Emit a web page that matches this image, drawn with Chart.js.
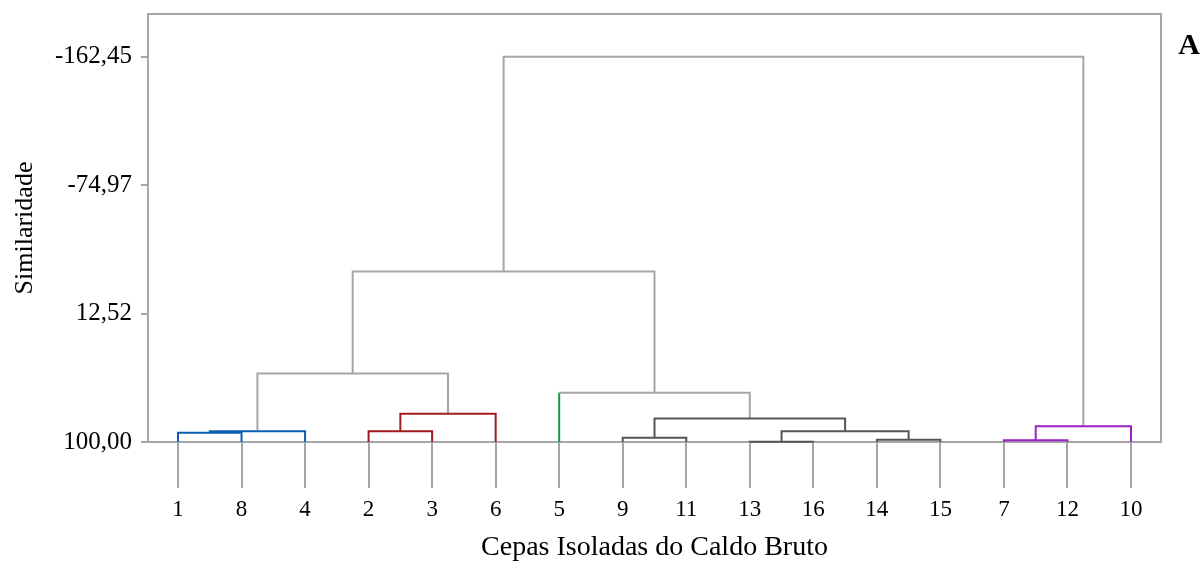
<!DOCTYPE html>
<html>
<head>
<meta charset="utf-8">
<script src="https://cdn.jsdelivr.net/npm/chart.js@4.4.0/dist/chart.umd.min.js"></script>
<style>
  html, body { margin: 0; padding: 0; background: #fff; }
</style>
</head>
<body>
<canvas id="dendroChart" width="1201" height="562"></canvas>
<script>

// leaf order along the bottom
var leafLabels = ['1', '8', '4', '2', '3', '6', '5', '9', '11', '13', '16', '14', '15', '7', '12', '10'];

// merges (node ids: leaves 0..15, then merge k gets id 16+k)
var mergeLeft   = [0, 16, 3, 18, 17, 7, 9, 11, 22, 21, 6, 20, 13, 28, 27];
var mergeRight  = [1, 2, 4, 5, 19, 8, 10, 12, 23, 24, 25, 26, 14, 15, 29];
var mergeHeight = [93.7, 92.6, 92.6, 80.8, 53.4, 97.1, 99.9, 98.5, 92.6, 84.0, 66.5, -16.1, 98.8, 89.2, -162.45];
var mergeGroup  = ['blue', 'blue', 'red', 'red', '', 'dark', 'dark', 'dark', 'dark', 'dark', '', '', 'purple', 'purple', ''];

// single leaves that carry their own group colour
var leafGroup = { 6: 'green' };

var yTicks = [-162.45, -74.97, 12.52, 100.00];

var colors = {
  '': '#a6a6a6',
  blue: '#0f5db3',
  red: '#a11a1e',
  green: '#139a34',
  dark: '#555555',
  purple: '#9b22c4'
};
var gray = '#a6a6a6';
var serif = "'Liberation Serif', 'Times New Roman', serif";

// x / height of every node
var nodeX = [];
var nodeH = [];
for (var i = 0; i < leafLabels.length; i++) {
  nodeX.push(i);
  nodeH.push(100);
}
for (var k = 0; k < mergeLeft.length; k++) {
  nodeX.push((nodeX[mergeLeft[k]] + nodeX[mergeRight[k]]) / 2);
  nodeH.push(mergeHeight[k]);
}

function legColor(child, k) {
  if (child < leafLabels.length && leafGroup[child]) {
    return colors[leafGroup[child]];
  }
  return colors[mergeGroup[k]];
}

var datasets = [];
for (var k = 0; k < mergeLeft.length; k++) {
  var a = mergeLeft[k], b = mergeRight[k], h = mergeHeight[k];
  var segColors = [legColor(a, k), colors[mergeGroup[k]], legColor(b, k)];
  datasets.push({
    data: [
      { x: nodeX[a], y: nodeH[a] },
      { x: nodeX[a], y: h },
      { x: nodeX[b], y: h },
      { x: nodeX[b], y: nodeH[b] }
    ],
    borderWidth: 2,
    pointRadius: 0,
    clip: 6,
    borderColor: segColors[1],
    segment: {
      borderColor: (function (c) {
        return function (ctx) { return c[ctx.p0DataIndex]; };
      })(segColors)
    }
  });
}

// frame round the plot and the panel letter
var framePlugin = {
  id: 'frame',
  beforeDatasetsDraw: function (chart) {
    var ctx = chart.ctx, ca = chart.chartArea;
    ctx.save();
    ctx.strokeStyle = gray;
    ctx.lineWidth = 2;
    ctx.strokeRect(ca.left, ca.top, ca.right - ca.left, ca.bottom - ca.top);
    ctx.restore();
  },
  afterDraw: function (chart) {
    var ctx = chart.ctx;
    ctx.save();
    ctx.fillStyle = '#000';
    ctx.font = 'bold 30px ' + serif;
    ctx.textAlign = 'right';
    ctx.textBaseline = 'alphabetic';
    ctx.fillText('A', 1200, 54);
    ctx.restore();
  }
};

var ctx = document.getElementById('dendroChart').getContext('2d');
var dendro = new Chart(ctx, {
  type: 'line',
  data: { datasets: datasets },
  plugins: [framePlugin],
  options: {
    responsive: false,
    animation: false,
    events: [],
    layout: { padding: { top: 14, right: 40, left: 0, bottom: 0 } },
    plugins: {
      legend: { display: false },
      tooltip: { enabled: false }
    },
    scales: {
      x: {
        type: 'linear',
        min: -0.472,
        max: 15.472,
        afterBuildTicks: function (scale) {
          scale.ticks = leafLabels.map(function (l, i) { return { value: i }; });
        },
        afterFit: function (scale) { scale.height = 120; },
        border: { display: false },
        grid: {
          drawOnChartArea: false,
          drawTicks: true,
          tickLength: 46,
          color: gray,
          lineWidth: 2
        },
        ticks: {
          autoSkip: false,
          maxRotation: 0,
          padding: 8,
          color: '#000',
          font: { family: serif, size: 23 },
          callback: function (v) { return leafLabels[Math.round(v)]; }
        },
        title: {
          display: true,
          text: 'Cepas Isoladas do Caldo Bruto',
          color: '#000',
          font: { family: serif, size: 28, lineHeight: 1 },
          padding: { top: 0, bottom: 0 }
        }
      },
      y: {
        type: 'linear',
        reverse: true,
        min: -191.5,
        max: 100,
        afterBuildTicks: function (scale) {
          scale.ticks = yTicks.map(function (v) { return { value: v }; });
        },
        afterFit: function (scale) {
          scale.width = 148;
          scale.paddingTop = 0;
        },
        border: { display: false },
        grid: {
          drawOnChartArea: false,
          drawTicks: true,
          tickLength: 7,
          color: gray,
          lineWidth: 2
        },
        ticks: {
          padding: 9,
          color: '#000',
          font: { family: serif, size: 25 },
          callback: function (v) { return v.toFixed(2).replace('.', ','); }
        },
        title: {
          display: true,
          text: 'Similaridade',
          color: '#000',
          font: { family: serif, size: 26, lineHeight: 1 },
          padding: { top: 12, bottom: 0 }
        }
      }
    }
  }
});

</script>
</body>
</html>
